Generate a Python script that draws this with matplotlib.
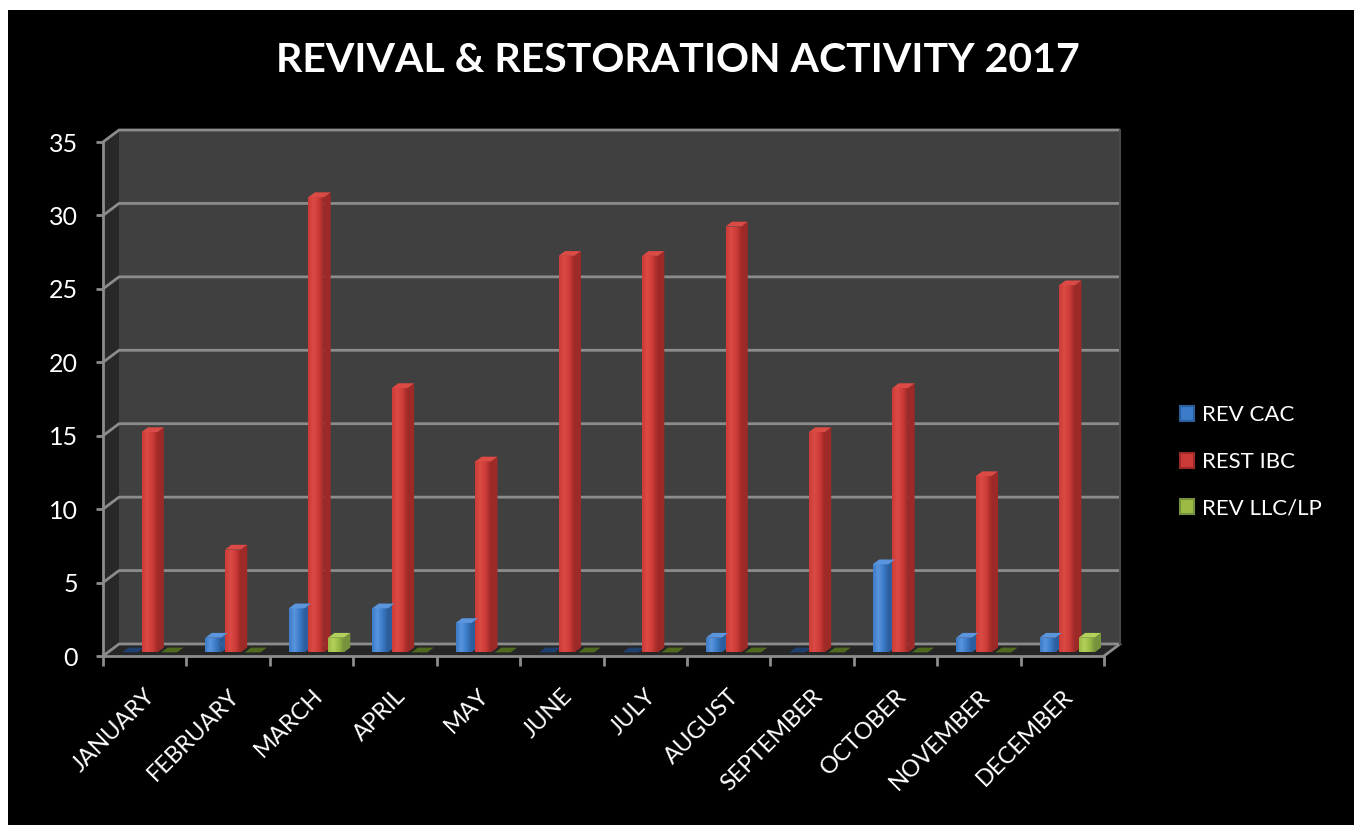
import numpy as np
import matplotlib
matplotlib.use("Agg")
import matplotlib.pyplot as plt
from matplotlib.patches import Polygon, Rectangle, Patch
from matplotlib.colors import LinearSegmentedColormap

months = ["JANUARY", "FEBRUARY", "MARCH", "APRIL", "MAY", "JUNE", "JULY",
          "AUGUST", "SEPTEMBER", "OCTOBER", "NOVEMBER", "DECEMBER"]
rev_cac = [0, 1, 3, 3, 2, 0, 0, 1, 0, 6, 1, 1]
rest_ibc = [15, 7, 31, 18, 13, 27, 27, 29, 15, 18, 12, 25]
rev_llc = [0, 0, 1, 0, 0, 0, 0, 0, 0, 0, 0, 1]
series_names = ["REV CAC", "REST IBC", "REV LLC/LP"]
y_ticks = [0, 5, 10, 15, 20, 25, 30, 35]

# (light, mid, dark) shades for the faked 3d columns
shades = [("#5a95de", "#3b7bc8", "#2b5e9e"),
          ("#dc4a45", "#cc3b37", "#9e2a28"),
          ("#b2d15a", "#9bbb45", "#76923c")]
flat_cols = ["#1f3f6e", "#f00000", "#4f6a1e"]

FONT = "Lato"
GRID = "#8c8c8c"
W, H = 1354, 825

fig = plt.figure(figsize=(W / 100, H / 100), dpi=100, facecolor="white")
fig.patches.append(Rectangle((8 / W, 0), 1, 1 - 10 / H, transform=fig.transFigure,
                             facecolor="black", edgecolor="none", zorder=-10))

ax = fig.add_axes([103 / W, (H - 656) / H, 1001 / W, 514 / H])
ax.set_facecolor("none")
n = len(months)
ymax = 35
ax.set_xlim(0, n)
ax.set_ylim(0, ymax)

# depth of the box in data units (16px right, 12px up)
DX = 16 / (1001 / n)
DY = 12 / (514 / ymax)

def poly(pts, **kw):
    p = Polygon(pts, closed=True, clip_on=False, **kw)
    ax.add_patch(p)
    return p

# walls and floor
poly([(DX, DY), (n + DX, DY), (n + DX, ymax + DY), (DX, ymax + DY)],
     facecolor="#404040", edgecolor="none", zorder=0)
poly([(0, 0), (DX, DY), (DX, ymax + DY), (0, ymax)],
     facecolor="#282828", edgecolor="none", zorder=0)
poly([(0, 0), (n, 0), (n + DX, DY), (DX, DY)],
     facecolor="#262626", edgecolor="none", zorder=0)

for yv in y_ticks:
    ax.plot([0, DX, n + DX], [yv, yv + DY, yv + DY], color=GRID, lw=2,
            clip_on=False, zorder=1, solid_capstyle="butt")
ax.plot([n, n + DX], [0, DY], color=GRID, lw=2, clip_on=False, zorder=1)
ax.plot([n + DX, n + DX], [DY, ymax + DY], color="#4a4a4a", lw=1.5,
        clip_on=False, zorder=1)

# columns
zf, zb = 0.3, 0.7
bw = 0.19
offs = [-0.235, 0.0, 0.235]
centers = np.arange(n) + 0.5
values = [rev_cac, rest_ibc, rev_llc]

for i in range(n):
    for s in range(3):
        v = values[s][i]
        light, mid, dark = shades[s]
        x0 = centers[i] + offs[s] - bw / 2 + zf * DX
        x1 = x0 + bw
        y0 = zf * DY
        top = v + y0
        sd = (zb - zf)
        if v > 0:
            bar = ax.bar(x0, v, width=bw, bottom=y0, align="edge",
                         color=mid, edgecolor="none", zorder=3)[0]
            cmap = LinearSegmentedColormap.from_list("b", [mid, light, mid, dark])
            img = ax.imshow(np.linspace(0, 1, 64).reshape(1, -1), cmap=cmap,
                            extent=[x0, x1, y0, top], aspect="auto", zorder=3.1,
                            interpolation="bilinear")
            img.set_clip_path(bar)
            # right side
            poly([(x1, y0), (x1 + sd * DX, y0 + sd * DY),
                  (x1 + sd * DX, top + sd * DY), (x1, top)],
                 facecolor=dark, edgecolor="none", zorder=3)
            # top
            poly([(x0, top), (x1, top), (x1 + sd * DX, top + sd * DY),
                  (x0 + sd * DX, top + sd * DY)],
                 facecolor=light, edgecolor="none", zorder=3.2)
        else:
            poly([(x0, top), (x1, top), (x1 + sd * DX, top + sd * DY),
                  (x0 + sd * DX, top + sd * DY)],
                 facecolor=flat_cols[s], edgecolor="none", zorder=3)

ax.set_xlim(0, n)
ax.set_ylim(0, ymax)

for side in ["top", "right"]:
    ax.spines[side].set_visible(False)
for side in ["left", "bottom"]:
    ax.spines[side].set_color(GRID)
    ax.spines[side].set_linewidth(2)
    ax.spines[side].set_zorder(5)

ax.set_yticks(y_ticks)
ax.set_yticklabels([str(t) for t in y_ticks], fontsize=18, color="white",
                   family=FONT)
ax.tick_params(axis="y", length=5, width=2, color=GRID, pad=13)

ax.set_xticks(np.arange(n + 1))
ax.set_xticklabels([])
ax.tick_params(axis="x", which="major", length=7, width=2, color=GRID)
ax.set_xticks(centers, minor=True)
ax.set_xticklabels(months, minor=True, rotation=45, ha="right", va="top",
                   rotation_mode="anchor", fontsize=17, color="white",
                   family=FONT)
ax.tick_params(axis="x", which="minor", length=0, pad=21)

handles = [Patch(facecolor=shades[s][1], edgecolor=shades[s][2], linewidth=1.5)
           for s in range(3)]
leg = fig.legend(handles, series_names, loc="center left",
                 bbox_to_anchor=(1180 / W, 1 - 462 / H), frameon=False,
                 borderpad=0, borderaxespad=0, handlelength=0.65,
                 handleheight=0.65, handletextpad=0.35, labelspacing=1.2,
                 prop={"family": FONT, "size": 16})
for t in leg.get_texts():
    t.set_color("white")

fig.text(678 / W, 1 - 61 / H, "REVIVAL & RESTORATION ACTIVITY 2017",
         ha="center", va="center", color="white", fontsize=29.5,
         fontweight="bold", family=FONT)

fig.savefig("out.png", dpi=100, facecolor=fig.get_facecolor())
